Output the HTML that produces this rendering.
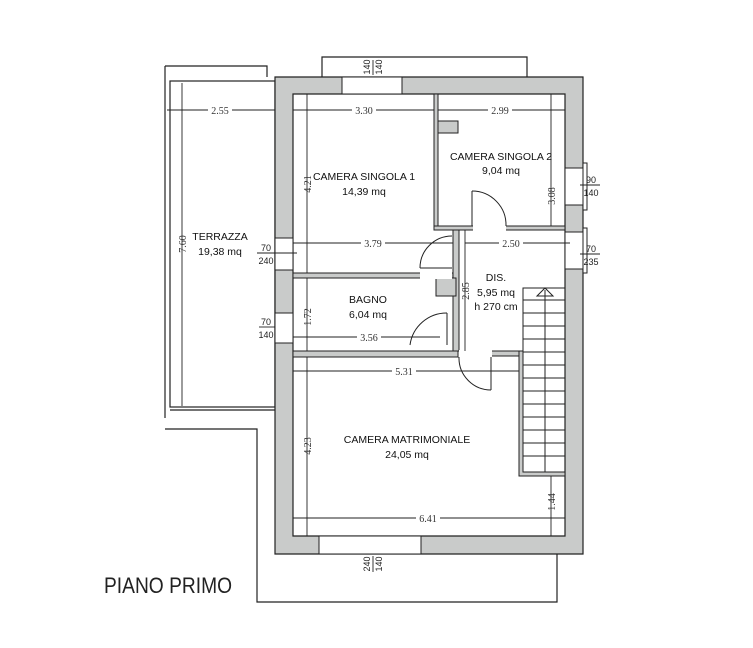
<!DOCTYPE html>
<html><head><meta charset="utf-8"><style>
html,body{margin:0;padding:0;background:#fff;}
svg{display:block;font-family:"Liberation Sans",sans-serif;}
.d{font-family:"Liberation Serif",serif;font-size:10px;fill:#333;}
.t{font-size:10.5px;fill:#111;}
</style></head><body>
<svg width="753" height="648" viewBox="0 0 753 648" xmlns="http://www.w3.org/2000/svg">
<rect width="753" height="648" fill="#fff"/>
<g fill="none" stroke="#222" stroke-width="1.2">
<polyline points="165,66 267,66 267,77"/>
<line x1="165" y1="66" x2="165" y2="418"/>
<rect x="170" y="81" width="105" height="326"/>
<line x1="170" y1="410" x2="275" y2="410"/>
<polyline points="165,429 257,429 257,602 557,602 557,554"/>
<polyline points="322,77 322,57 527,57 527,77"/>
</g>
<path d="M275,77H583V554H275Z M293,94V536H565V94Z" fill="#c9cbca" fill-rule="evenodd" stroke="#222" stroke-width="1.2"/>
<g fill="#fff" stroke="#222" stroke-width="1">
<rect x="342" y="77" width="60" height="17"/>
<rect x="319" y="536" width="102" height="18"/>
<rect x="275" y="238" width="18" height="32"/>
<rect x="275" y="313" width="18" height="30"/>
<rect x="565" y="168" width="18" height="37"/>
<rect x="565" y="232" width="18" height="37"/>
<rect x="583" y="163" width="4" height="47"/>
<rect x="583" y="228" width="4" height="45"/>
</g>
<g fill="#c9cbca" stroke="#222" stroke-width="1">
<rect x="434" y="94" width="4" height="136"/>
<rect x="438" y="121" width="20" height="12"/>
<rect x="434" y="226" width="131" height="4"/>
<rect x="293" y="273" width="163" height="5"/>
<rect x="453" y="230" width="6" height="121"/>
<rect x="436" y="278" width="20" height="18"/>
<rect x="293" y="351" width="165" height="6"/>
<rect x="464" y="351" width="55" height="5"/>
<path d="M519,351h4v121h42v4h-46z"/>
</g>
<g fill="#fff" stroke="none">
<rect x="473" y="225" width="33" height="6"/>
<rect x="420" y="272" width="32" height="7"/>
<rect x="459" y="350" width="33" height="8"/>
</g>
<g fill="none" stroke="#222" stroke-width="1">
<line x1="472" y1="226" x2="472" y2="191"/><path d="M472,191 A34,34 0 0 1 506,226"/>
<line x1="420" y1="268" x2="452" y2="268"/><path d="M420,268 A32,32 0 0 1 452,236"/>
<line x1="447" y1="313" x2="447" y2="345"/><path d="M410,345 A37,37 0 0 1 447,313"/>
<line x1="491" y1="357" x2="491" y2="390"/><path d="M459,357 A32,32 0 0 0 491,390"/>
</g>
<g fill="none" stroke="#222" stroke-width="1">
<rect x="523" y="288" width="42" height="184"/>
<line x1="545" y1="290" x2="545" y2="472"/>
<path d="M537,296 L545,288 L553,296 Z"/>
<line x1="523" y1="300" x2="565" y2="300"/><line x1="523" y1="313" x2="565" y2="313"/>
<line x1="523" y1="326" x2="565" y2="326"/><line x1="523" y1="339" x2="565" y2="339"/>
<line x1="523" y1="352" x2="565" y2="352"/><line x1="523" y1="365" x2="565" y2="365"/>
<line x1="523" y1="378" x2="565" y2="378"/><line x1="523" y1="391" x2="565" y2="391"/>
<line x1="523" y1="404" x2="565" y2="404"/><line x1="523" y1="417" x2="565" y2="417"/>
<line x1="523" y1="430" x2="565" y2="430"/><line x1="523" y1="443" x2="565" y2="443"/>
<line x1="523" y1="456" x2="565" y2="456"/>
</g>
<g stroke="#222" stroke-width="0.9">
<line x1="167" y1="110" x2="275" y2="110"/>
<line x1="293" y1="110" x2="434" y2="110"/>
<line x1="438" y1="110" x2="565" y2="110"/>
<line x1="182" y1="83" x2="182" y2="406"/>
<line x1="307" y1="94" x2="307" y2="273"/>
<line x1="551" y1="94" x2="551" y2="226"/>
<line x1="293" y1="243" x2="453" y2="243"/>
<line x1="465" y1="243" x2="570" y2="243"/>
<line x1="465" y1="230" x2="465" y2="351"/>
<line x1="307" y1="278" x2="307" y2="351"/>
<line x1="293" y1="337" x2="440" y2="337"/>
<line x1="293" y1="371" x2="519" y2="371"/>
<line x1="307" y1="357" x2="307" y2="536"/>
<line x1="293" y1="518" x2="565" y2="518"/>
<line x1="551" y1="476" x2="551" y2="536"/>
<line x1="257" y1="253" x2="297" y2="253"/>
<line x1="259" y1="327" x2="275" y2="327"/>
<line x1="580" y1="185" x2="600" y2="185"/>
<line x1="580" y1="254" x2="600" y2="254"/>
<line x1="373" y1="60" x2="373" y2="75"/>
<line x1="373" y1="556" x2="373" y2="572"/>
</g>
<g class="d" text-anchor="middle">
<rect x="208" y="104" width="24" height="12" fill="#fff"/><text x="220" y="114">2.55</text>
<rect x="352" y="104" width="24" height="12" fill="#fff"/><text x="364" y="114">3.30</text>
<rect x="488" y="104" width="24" height="12" fill="#fff"/><text x="500" y="114">2.99</text>
<rect x="361" y="237" width="24" height="12" fill="#fff"/><text x="373" y="247">3.79</text>
<rect x="499" y="237" width="24" height="12" fill="#fff"/><text x="511" y="247">2.50</text>
<rect x="357" y="331" width="24" height="12" fill="#fff"/><text x="369" y="341">3.56</text>
<rect x="392" y="365" width="24" height="12" fill="#fff"/><text x="404" y="375">5.31</text>
<rect x="416" y="512" width="24" height="12" fill="#fff"/><text x="428" y="522">6.41</text>
<text transform="translate(186,244) rotate(-90)">7.60</text>
<text transform="translate(311,184) rotate(-90)">4.21</text>
<text transform="translate(555,196) rotate(-90)">3.08</text>
<text transform="translate(469,291) rotate(-90)">2.85</text>
<text transform="translate(311,317) rotate(-90)">1.72</text>
<text transform="translate(311,446) rotate(-90)">4.23</text>
<text transform="translate(555,502) rotate(-90)">1.44</text>
</g>
<g font-size="9" fill="#222" text-anchor="middle">
<text x="266" y="251">70</text><text x="266" y="264">240</text>
<text x="266" y="325">70</text><text x="266" y="338">140</text>
<text x="591" y="183">90</text><text x="591" y="196">140</text>
<text x="591" y="252">70</text><text x="591" y="265">235</text>
<text transform="translate(370,67) rotate(-90)">140</text>
<text transform="translate(382,67) rotate(-90)">140</text>
<text transform="translate(370,564) rotate(-90)">240</text>
<text transform="translate(382,564) rotate(-90)">140</text>
</g>
<g class="t" text-anchor="middle">
<text x="220" y="240">TERRAZZA</text><text x="220" y="255">19,38 mq</text>
<text x="364" y="180">CAMERA SINGOLA 1</text><text x="364" y="195">14,39 mq</text>
<text x="501" y="160">CAMERA SINGOLA 2</text><text x="501" y="174">9,04 mq</text>
<text x="368" y="303">BAGNO</text><text x="368" y="318">6,04 mq</text>
<text x="496" y="281">DIS.</text><text x="496" y="296">5,95 mq</text><text x="496" y="310">h 270 cm</text>
<text x="407" y="443">CAMERA MATRIMONIALE</text><text x="407" y="458">24,05 mq</text>
</g>
<text x="104" y="593" font-size="22" fill="#222" textLength="128" lengthAdjust="spacingAndGlyphs">PIANO PRIMO</text>
</svg>
</body></html>
